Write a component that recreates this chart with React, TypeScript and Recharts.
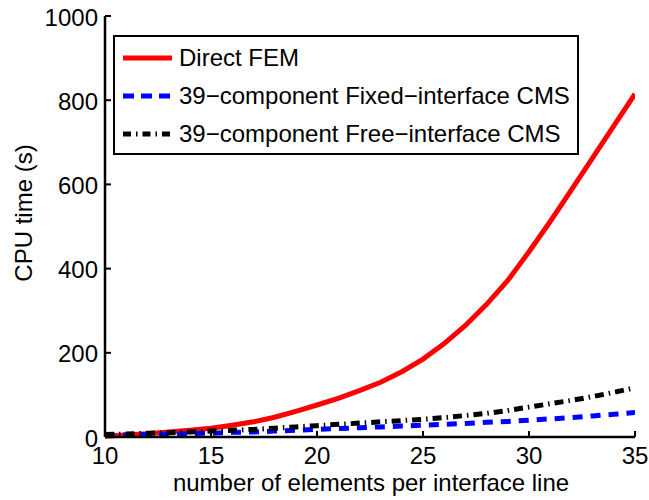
import React from 'react';
import { LineChart, Line, XAxis, YAxis, Legend, Label } from 'recharts';

// number of elements per interface line
const ELEMENTS = [10, 11, 12, 13, 14, 15, 16, 17, 18, 19, 20, 21, 22, 23, 24, 25, 26, 27, 28, 29, 30, 31, 32, 33, 34, 35];

// CPU time in seconds
const DIRECT_FEM = [2, 5, 8, 12, 16, 21, 28, 36, 47, 61, 76, 92, 110, 130, 155, 185, 222, 265, 315, 372, 440, 512, 587, 663, 739, 815];
const FIXED_CMS = [4, 5, 6, 7, 8, 9, 11, 12, 14, 16, 18, 20, 22, 24, 26, 28, 30, 32, 35, 37, 40, 43, 46, 50, 54, 58];
const FREE_CMS = [6, 7, 9, 10, 12, 14, 16, 18, 21, 24, 27, 30, 33, 36, 39, 42, 46, 51, 56, 63, 71, 79, 87, 96, 106, 117];

const X_TICKS = [10, 15, 20, 25, 30, 35];
const Y_TICKS = [0, 200, 400, 600, 800, 1000];

const SERIES = [
  { key: 'direct', name: 'Direct FEM', color: '#ff0000', dash: undefined, legendDash: undefined },
  { key: 'fixed', name: '39−component Fixed−interface CMS', color: '#0000ff', dash: '10 8', legendDash: '11 7' },
  { key: 'free', name: '39−component Free−interface CMS', color: '#000000', dash: '9 5 1.5 5', legendDash: '8 5 1.5 5' },
];

const data = ELEMENTS.map((n, i) => ({
  n,
  direct: DIRECT_FEM[i],
  fixed: FIXED_CMS[i],
  free: FREE_CMS[i],
}));

const FONT = '"Liberation Sans", Arial, Helvetica, sans-serif';
const FONT_SIZE = 24;
const xTickStyle = { fill: '#000', fontSize: FONT_SIZE, fontFamily: FONT };
const yTickStyle = { fill: '#000', fontSize: FONT_SIZE, fontFamily: FONT, dy: 1 };
const axisStroke = { stroke: '#000', strokeWidth: 2.5 };
const tickStroke = { stroke: '#000', strokeWidth: 2 };

function LegendBox() {
  return (
    <div
      style={{
        background: '#fff',
        border: '2.5px solid #000',
        width: 462,
        height: 114,
        paddingTop: 2,
        boxSizing: 'content-box',
        fontFamily: FONT,
        fontSize: FONT_SIZE,
        color: '#000',
      }}
    >
      {SERIES.map(s => (
        <div key={s.key} style={{ height: 38, display: 'flex', alignItems: 'center' }}>
          <svg width={64} height={10} style={{ flex: 'none' }}>
            <line
              x1={8}
              x2={57}
              y1={5}
              y2={5}
              stroke={s.color}
              strokeWidth={5}
              strokeDasharray={s.legendDash}
            />
          </svg>
          <span style={{ whiteSpace: 'nowrap', lineHeight: '24px' }}>{s.name}</span>
        </div>
      ))}
    </div>
  );
}

export default function App() {
  return (
    <div style={{ position: 'absolute', left: 0, top: 0, width: 649, height: 500, background: '#fff', fontFamily: FONT }}>
      <LineChart width={649} height={500} data={data} margin={{ top: 16, right: 14, bottom: 0, left: 0 }}>
        <XAxis
          dataKey="n"
          type="number"
          domain={[10, 35]}
          ticks={X_TICKS}
          allowDataOverflow
          height={63}
          tickSize={-6}
          tickMargin={16}
          tick={xTickStyle}
          axisLine={axisStroke}
          tickLine={tickStroke}
        >
          <Label
            content={() => (
              <text x={371} y={491} textAnchor="middle" fontSize={FONT_SIZE} fontFamily={FONT} fill="#000">
                number of elements per interface line
              </text>
            )}
          />
        </XAxis>
        <XAxis
          xAxisId="top"
          orientation="top"
          dataKey="n"
          type="number"
          domain={[10, 35]}
          ticks={X_TICKS}
          height={0}
          tickSize={-6}
          tick={false}
          axisLine={axisStroke}
          tickLine={tickStroke}
        />
        <YAxis
          type="number"
          domain={[0, 1000]}
          ticks={Y_TICKS}
          width={105}
          tickSize={-6}
          tickMargin={13}
          tick={yTickStyle}
          axisLine={axisStroke}
          tickLine={tickStroke}
        >
          <Label
            content={() => (
              <text
                x={32}
                y={213}
                transform="rotate(-90 32 213)"
                textAnchor="middle"
                fontSize={FONT_SIZE}
                fontFamily={FONT}
                fill="#000"
              >
                CPU time (s)
              </text>
            )}
          />
        </YAxis>
        <YAxis
          yAxisId="right"
          orientation="right"
          type="number"
          domain={[0, 1000]}
          ticks={Y_TICKS}
          width={0}
          tickSize={-6}
          tick={false}
          axisLine={axisStroke}
          tickLine={tickStroke}
        />
        {SERIES.map(s => (
          <Line
            key={s.key}
            type="linear"
            dataKey={s.key}
            name={s.name}
            stroke={s.color}
            strokeWidth={5}
            strokeDasharray={s.dash}
            dot={false}
            activeDot={false}
            isAnimationActive={false}
          />
        ))}
        <Legend
          verticalAlign="middle"
          layout="horizontal"
          content={() => <LegendBox />}
          wrapperStyle={{ left: 113, top: 35, width: 'auto', height: 'auto' }}
        />
      </LineChart>
    </div>
  );
}
